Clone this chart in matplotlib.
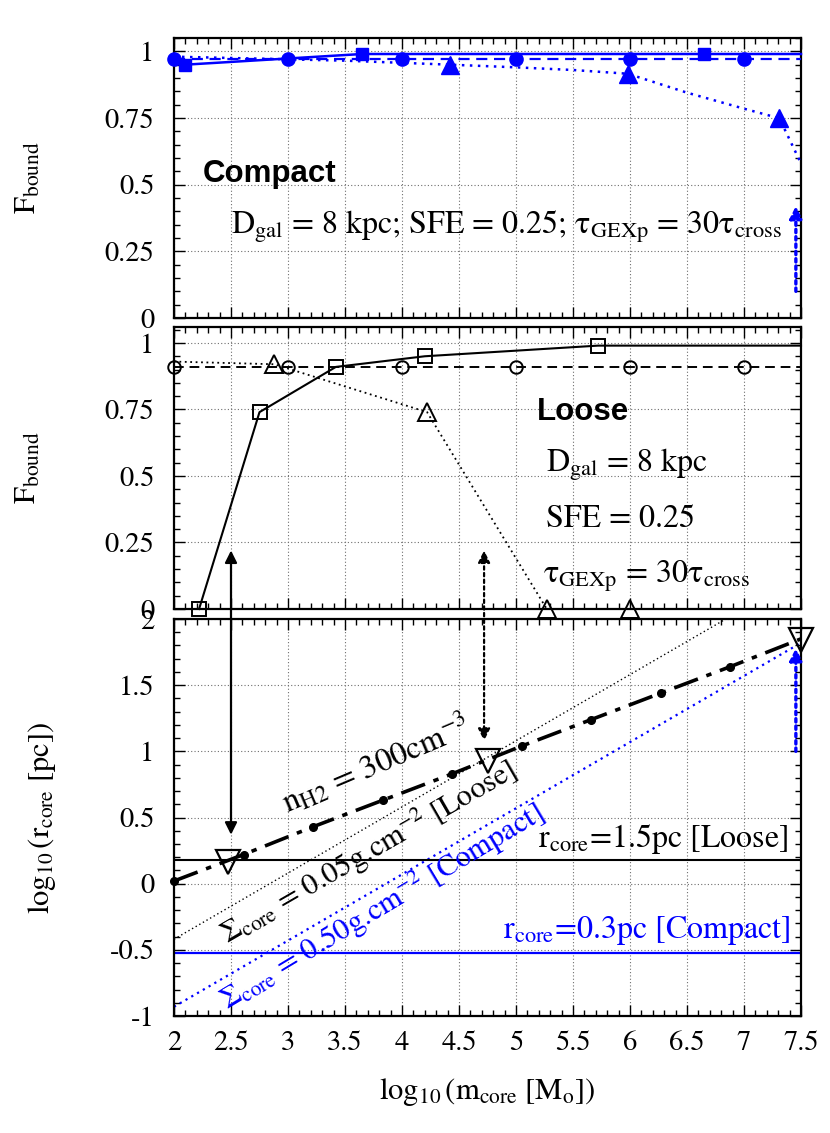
import matplotlib
matplotlib.use('Agg')
import matplotlib.pyplot as plt
from matplotlib.patches import ConnectionPatch
from matplotlib.ticker import MultipleLocator

plt.rcParams['font.family'] = 'STIXGeneral'
plt.rcParams['mathtext.fontset'] = 'stix'

# ---------------- data ----------------
# Compact panel (top)
c_sq_x = [2.1, 3.65, 6.65, 7.5]
c_sq_y = [0.95, 0.99, 0.99, 0.99]
c_ci_x = [2, 3, 4, 5, 6, 7, 7.5]
c_ci_y = [0.97, 0.97, 0.97, 0.97, 0.97, 0.97, 0.97]
c_tr_x = [2.0, 3.0, 3.5, 4.42, 5.0, 5.5, 5.98, 6.5, 7.0, 7.31, 7.5]
c_tr_y = [0.98, 0.97, 0.965, 0.95, 0.94, 0.93, 0.916, 0.845, 0.785, 0.749, 0.58]
c_tr_mark = [3, 6, 9]

# Loose panel (middle)
l_sq_x = [2.22, 2.75, 3.42, 4.2, 5.72, 7.5]
l_sq_y = [0.0, 0.74, 0.91, 0.95, 0.99, 0.99]
l_ci_x = [2, 3, 4, 5, 6, 7, 7.5]
l_ci_y = [0.91, 0.91, 0.91, 0.91, 0.91, 0.91, 0.91]
l_tr_x = [2.0, 2.88, 4.22, 5.27, 6.0]
l_tr_y = [0.93, 0.92, 0.74, 0.0, 0.0]

# Core radius panel (bottom)
n_x = [2.0, 2.61, 3.22, 3.83, 4.44, 5.05, 5.66, 6.27, 6.88, 7.5]
n_y = [0.02, 0.22, 0.43, 0.63, 0.83, 1.04, 1.24, 1.44, 1.64, 1.85]
tri_x = [2.47, 4.75, 7.5]
tri_y = [0.16, 0.93, 1.84]
sig_loose_x = [2.0, 7.5]
sig_loose_y = [-0.42, 2.33]
sig_comp_x = [2.0, 7.5]
sig_comp_y = [-0.93, 1.82]
r_loose = 0.176
r_comp = -0.523

# arrows
arr1_x, arr1_mid, arr1_bot = 2.5, 0.22, 0.37
arr2_x, arr2_mid, arr2_bot = 4.72, 0.22, 1.08
arrc_x = 7.455
arrc_top = (0.10, 0.42)
arrc_bot = (1.0, 1.78)

xticks = [2, 2.5, 3, 3.5, 4, 4.5, 5, 5.5, 6, 6.5, 7, 7.5]
xticklabels = ['2', '2.5', '3', '3.5', '4', '4.5', '5', '5.5', '6', '6.5', '7', '7.5']
fticks = [0, 0.25, 0.5, 0.75, 1]
fticklabels = ['0', '0.25', '0.5', '0.75', '1']
rticks = [-1, -0.5, 0, 0.5, 1, 1.5, 2]
rticklabels = ['-1', '-0.5', '0', '0.5', '1', '1.5', '2']

BLUE = '#0000ff'
W, H = 830, 1133
fig = plt.figure(figsize=(W / 100, H / 100), dpi=100)

def ax_at(x0, x1, ytop, ybot):
    return fig.add_axes([x0 / W, 1 - ybot / H, (x1 - x0) / W, (ybot - ytop) / H])

ax1 = ax_at(174, 801, 38, 318)
ax2 = ax_at(174, 801, 327, 609)
ax3 = ax_at(174, 801, 619, 1016)

TICK_FS = 20.5
TXT_FS = 23

for ax in (ax1, ax2, ax3):
    ax.set_xlim(2, 7.5)
    ax.set_xticks(xticks)
    ax.xaxis.set_minor_locator(MultipleLocator(0.1))
    ax.tick_params(which='both', direction='in', top=True, right=True)
    ax.tick_params(which='major', length=8, width=1)
    ax.tick_params(which='minor', length=4, width=1)
    ax.tick_params(axis='y', which='major', pad=14, labelsize=TICK_FS)
    ax.tick_params(axis='x', which='major', pad=11, labelsize=TICK_FS)
    ax.grid(True, which='major', linestyle=(0, (1, 2)), color='#6f6f6f', lw=0.8)
    for s in ax.spines.values():
        s.set_linewidth(1.6)

for ax, top in ((ax1, 1.05), (ax2, 1.06)):
    ax.set_ylim(0, top)
    ax.set_yticks(fticks)
    ax.set_yticklabels(fticklabels)
    ax.yaxis.set_minor_locator(MultipleLocator(0.05))
    ax.set_xticklabels([])
    ax.set_ylabel(r'$\mathrm{F_{bound}}$', fontsize=22)
    ax.yaxis.set_label_coords(-0.21, 0.5)

ax3.set_ylim(-1, 2)
ax3.set_yticks(rticks)
ax3.set_yticklabels(rticklabels)
ax3.yaxis.set_minor_locator(MultipleLocator(0.1))
ax3.set_xticklabels(xticklabels)
ax3.set_xlabel(r'$\mathrm{log_{10}\,(m_{core}\ [M_o])}$', fontsize=22, labelpad=14)
ax3.set_ylabel(r'$\mathrm{log_{10}\,(r_{core}\ [pc])}$', fontsize=22)
ax3.yaxis.set_label_coords(-0.185, 0.5)

# ---------- top panel: Compact ----------
ax1.plot(c_sq_x, c_sq_y, '-', color=BLUE, lw=1.8, marker='s', ms=9,
         markevery=[0, 1, 2], clip_on=False, zorder=5)
ax1.plot(c_ci_x, c_ci_y, color=BLUE, lw=1.6, ls=(0, (5, 3)), marker='o', ms=9.5,
         markevery=list(range(6)), clip_on=False, zorder=5)
ax1.plot(c_tr_x, c_tr_y, color=BLUE, lw=1.8, ls=(0, (1, 2.2)), marker='^', ms=12.5,
         markevery=c_tr_mark, clip_on=False, zorder=5)
ax1.annotate('', xy=(arrc_x, arrc_top[1]), xytext=(arrc_x, arrc_top[0]),
             arrowprops=dict(arrowstyle='-|>', color=BLUE, lw=2.4, ls=(0, (1, 1.2)),
                             mutation_scale=18, shrinkA=0, shrinkB=0))
ax1.text(2.25, 0.51, 'Compact', family='Liberation Sans', weight='bold',
         fontsize=22.5, va='baseline', ha='left')
ax1.text(2.5, 0.318,
         r'$\mathrm{D_{gal}}$ = 8 kpc; SFE = 0.25; $\mathrm{\tau_{GEXp}}$ = 30$\mathrm{\tau_{cross}}$',
         fontsize=TXT_FS, va='baseline', ha='left')

# ---------- middle panel: Loose ----------
ax2.plot(l_sq_x, l_sq_y, '-', color='black', lw=1.5, marker='s', ms=10, mfc='none',
         mew=1.4, markevery=[0, 1, 2, 3, 4], clip_on=False, zorder=5)
ax2.plot(l_ci_x, l_ci_y, color='black', lw=1.4, ls=(0, (5, 3)), marker='o', ms=9,
         mfc='none', mew=1.4, markevery=list(range(6)), clip_on=False, zorder=5)
ax2.plot(l_tr_x, l_tr_y, color='black', lw=1.3, ls=(0, (1, 2)), marker='^', ms=13,
         mfc='none', mew=1.4, markevery=[1, 2, 3, 4], clip_on=False, zorder=5)
ax2.text(5.18, 0.71, 'Loose', family='Liberation Sans', weight='bold',
         fontsize=22.5, va='baseline', ha='left')
ax2.text(5.26, 0.515, r'$\mathrm{D_{gal}}$ = 8 kpc', fontsize=TXT_FS, va='baseline', ha='left')
ax2.text(5.26, 0.31, 'SFE = 0.25', fontsize=TXT_FS, va='baseline', ha='left')
ax2.text(5.24, 0.10, r'$\mathrm{\tau_{GEXp}}$ = 30$\mathrm{\tau_{cross}}$',
         fontsize=TXT_FS, va='baseline', ha='left')

# ---------- bottom panel ----------
ax3.plot(sig_loose_x, sig_loose_y, color='black', lw=1.0, ls=(0, (1, 2)))
ax3.plot(sig_comp_x, sig_comp_y, color=BLUE, lw=1.6, ls=(0, (1, 2)))
ax3.axhline(r_loose, color='black', lw=1.5)
ax3.axhline(r_comp, color=BLUE, lw=1.6)
ax3.plot(n_x, n_y, color='black', lw=2.6, ls=(0, (7, 2.5, 1.5, 2.5)), marker='o',
         ms=5.5, markevery=list(range(9)), clip_on=False, zorder=5)
ax3.plot(tri_x, tri_y, ls='none', marker='v', ms=17, mfc='none', mec='black',
         mew=1.6, clip_on=False, zorder=6)
ax3.annotate('', xy=(arrc_x, arrc_bot[1]), xytext=(arrc_x, arrc_bot[0]),
             arrowprops=dict(arrowstyle='-|>', color=BLUE, lw=2.4, ls=(0, (1, 1.2)),
                             mutation_scale=18, shrinkA=0, shrinkB=0))

ax3.text(2.99, 0.533, r'$\mathrm{n_{H2}}$ = 300cm$^{-3}$', fontsize=23.5, rotation=23,
         rotation_mode='anchor', ha='left', va='baseline')
ax3.text(2.47, -0.46, r'$\mathrm{\Sigma_{core}}$ = 0.05g.cm$^{-2}$ [Loose]', fontsize=22,
         rotation=30, rotation_mode='anchor', ha='left', va='baseline')
ax3.text(2.47, -0.955, r'$\mathrm{\Sigma_{core}}$ = 0.50g.cm$^{-2}$ [Compact]', fontsize=22,
         rotation=31, rotation_mode='anchor', ha='left', va='baseline', color=BLUE)
ax3.text(5.19, 0.28, r'$\mathrm{r_{core}}$=1.5pc [Loose]', fontsize=TXT_FS, ha='left',
         va='baseline')
ax3.text(4.89, -0.41, r'$\mathrm{r_{core}}$=0.3pc [Compact]', fontsize=TXT_FS, ha='left',
         va='baseline', color=BLUE)

# cross-panel arrows
cp1 = ConnectionPatch(xyA=(arr1_x, arr1_mid), coordsA=ax2.transData,
                      xyB=(arr1_x, arr1_bot), coordsB=ax3.transData,
                      arrowstyle='<|-|>', color='black', lw=1.6, mutation_scale=18,
                      shrinkA=0, shrinkB=0, zorder=7)
fig.add_artist(cp1)
cp2 = ConnectionPatch(xyA=(arr2_x, arr2_mid), coordsA=ax2.transData,
                      xyB=(arr2_x, arr2_bot), coordsB=ax3.transData,
                      arrowstyle='<|-|>', color='black', lw=1.6, ls=(0, (1.5, 1.5)),
                      mutation_scale=18, shrinkA=0, shrinkB=0, zorder=7)
fig.add_artist(cp2)

fig.savefig('out.png', dpi=100)
